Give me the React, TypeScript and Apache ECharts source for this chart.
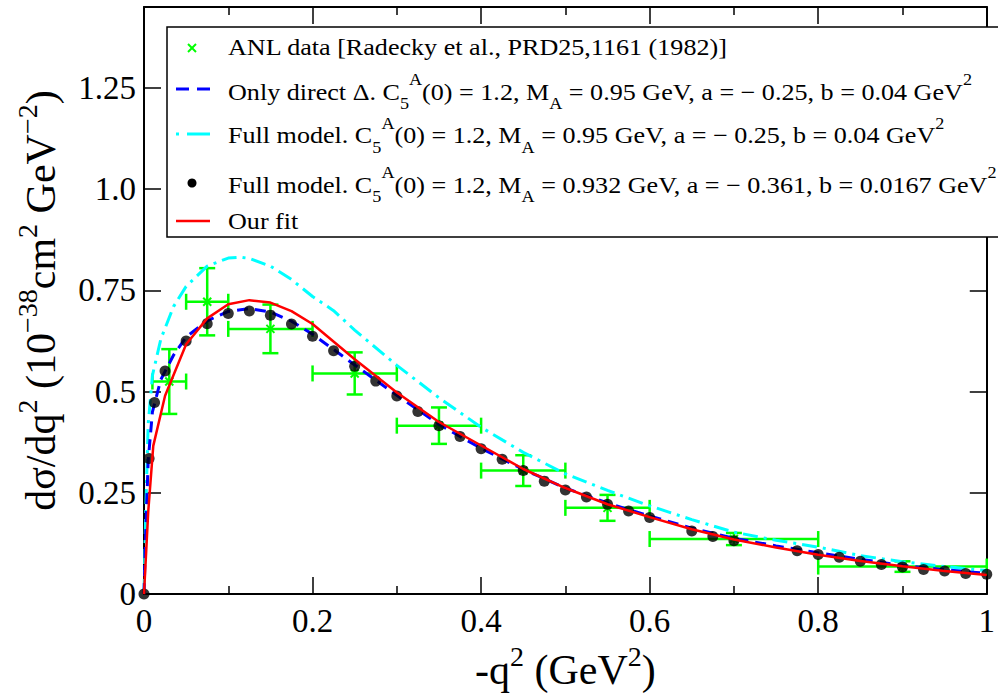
import React, { useEffect, useRef } from 'react';
import * as echarts from 'echarts';

const F = '"Liberation Serif", "Times New Roman", Times, serif';

// Full model, C5A(0)=1.2, MA=0.932 GeV, a=-0.361, b=0.0167 GeV^2 (black dots)
const dotsQ2 = [0, 0.006, 0.0125, 0.025, 0.05, 0.075, 0.1, 0.125, 0.15, 0.175, 0.2, 0.225, 0.25, 0.275, 0.3, 0.325, 0.35, 0.375, 0.4, 0.425, 0.45, 0.475, 0.5, 0.525, 0.55, 0.575, 0.6, 0.65, 0.675, 0.7, 0.775, 0.8, 0.825, 0.85, 0.875, 0.9, 0.925, 0.95, 0.975, 1.0];
const dotsVal = [0, 0.335, 0.473, 0.551, 0.625, 0.668, 0.693, 0.699, 0.689, 0.667, 0.637, 0.601, 0.563, 0.526, 0.489, 0.451, 0.416, 0.389, 0.359, 0.333, 0.305, 0.279, 0.257, 0.24, 0.222, 0.205, 0.189, 0.156, 0.142, 0.132, 0.107, 0.098, 0.091, 0.081, 0.073, 0.067, 0.061, 0.057, 0.051, 0.049];

// Only direct Delta (blue dashed)
const deltaQ2 = [0, 0.002, 0.005, 0.01, 0.02, 0.035, 0.05, 0.075, 0.1, 0.125, 0.15, 0.175, 0.2, 0.25, 0.3, 0.35, 0.4, 0.45, 0.5, 0.55, 0.6, 0.65, 0.7, 0.75, 0.8, 0.85, 0.9, 0.95, 1.0];
const deltaVal = [0, 0.15, 0.33, 0.45, 0.53, 0.59, 0.635, 0.675, 0.698, 0.705, 0.697, 0.674, 0.642, 0.566, 0.491, 0.419, 0.36, 0.308, 0.262, 0.225, 0.193, 0.163, 0.138, 0.119, 0.102, 0.086, 0.071, 0.06, 0.051];

// Full model, MA=0.95 GeV (cyan dash-dot)
const fullQ2 = [0, 0.002, 0.005, 0.01, 0.02, 0.035, 0.05, 0.075, 0.1, 0.115, 0.125, 0.15, 0.175, 0.2, 0.225, 0.25, 0.3, 0.35, 0.4, 0.45, 0.5, 0.55, 0.6, 0.65, 0.7, 0.75, 0.8, 0.85, 0.9, 0.95, 1.0];
const fullVal = [0, 0.2, 0.42, 0.54, 0.63, 0.71, 0.76, 0.81, 0.83, 0.832, 0.829, 0.81, 0.777, 0.735, 0.7, 0.652, 0.565, 0.485, 0.412, 0.35, 0.297, 0.256, 0.218, 0.184, 0.153, 0.133, 0.116, 0.095, 0.08, 0.068, 0.058];

// Our fit (red)
const fitQ2 = [0, 0.005, 0.011, 0.025, 0.05, 0.075, 0.1, 0.125, 0.15, 0.175, 0.2, 0.25, 0.3, 0.35, 0.4, 0.45, 0.5, 0.55, 0.6, 0.65, 0.7, 0.75, 0.8, 0.85, 0.9, 0.95, 1.0];
const fitVal = [0, 0.203, 0.366, 0.49, 0.617, 0.681, 0.716, 0.726, 0.72, 0.699, 0.667, 0.58, 0.498, 0.425, 0.367, 0.309, 0.262, 0.222, 0.19, 0.16, 0.135, 0.115, 0.097, 0.082, 0.069, 0.057, 0.047];

// ANL data [Radecky et al.]
const anlQ2 = [0.03, 0.075, 0.15, 0.25, 0.35, 0.45, 0.55, 0.7, 0.9];
const anlLo = [0.01, 0.05, 0.1, 0.2, 0.3, 0.4, 0.5, 0.6, 0.8];
const anlHi = [0.05, 0.1, 0.2, 0.3, 0.4, 0.5, 0.6, 0.8, 1.0];
const anlVal = [0.525, 0.722, 0.655, 0.545, 0.416, 0.305, 0.213, 0.136, 0.068];
const anlErr = [0.08, 0.083, 0.06, 0.052, 0.045, 0.038, 0.032, 0.015, 0.013];

const xTickLabels = ['0', '0.2', '0.4', '0.6', '0.8', '1'];
const yTickLabels = ['0', '0.25', '0.5', '0.75', '1.0', '1.25'];

const legendTexts = [
  '{b|ANL data [Radecky et al., PRD25,1161 (1982)]}',
  '{b|Only direct Δ. C}{sub|5}{sup|A}{b|(0) = 1.2, M}{sub|A}{b|\u00a0= 0.95 GeV, a = − 0.25, b = 0.04 GeV}{sup|2}',
  '{b|Full model. C}{sub|5}{sup|A}{b|(0) = 1.2, M}{sub|A}{b|\u00a0= 0.95 GeV, a = − 0.25, b = 0.04 GeV}{sup|2}',
  '{b|Full model. C}{sub|5}{sup|A}{b|(0) = 1.2, M}{sub|A}{b|\u00a0= 0.932 GeV, a = − 0.361, b = 0.0167 GeV}{sup|2}',
  '{b|Our fit}',
];

const xName = '{b|-q}{sup|2}{b|\u00a0(GeV}{sup|2}{b|)}';
const yName = '{b|dσ/dq}{sup|2}{b|\u00a0(10}{sup|−38}{b|cm}{sup|2}{b|\u00a0GeV}{sup|−2}{b|)}';

const zip = (xs: number[], ys: number[]) => xs.map((x, i) => [x, ys[i]]);

function buildOption() {
  const nameRich = (fs: number, sfs: number, lh: number) => ({
    b: { fontFamily: F, fontSize: fs, color: '#000', lineHeight: lh },
    sup: { fontFamily: F, fontSize: sfs, color: '#000', verticalAlign: 'top', lineHeight: sfs },
  });
  const tick = { show: true, inside: true, length: 17, lineStyle: { color: '#000', width: 1.5 } };
  const line = { show: true, onZero: false, lineStyle: { color: '#000', width: 2 } };
  const xCommon = {
    type: 'value', min: 0, max: 1, interval: 0.2,
    axisLine: line, axisTick: tick,
    minorTick: { show: true, splitNumber: 2, length: 8, lineStyle: { color: '#000', width: 1.5 } },
    splitLine: { show: false }, minorSplitLine: { show: false },
  };
  const yCommon = {
    type: 'value', min: 0, max: 1.45, interval: 0.25,
    axisLine: line, axisTick: tick,
    splitLine: { show: false },
  };

  const legendRich = {
    b: { fontFamily: F, fontSize: 23, fill: '#000', lineHeight: 40 },
    sup: { fontFamily: F, fontSize: 16, fill: '#000', verticalAlign: 'top', lineHeight: 14 },
    sub: { fontFamily: F, fontSize: 16, fill: '#000', verticalAlign: 'bottom', lineHeight: 11 },
  };
  const textRows = [47, 92, 135.5, 185, 221.5];
  const symRows = [48, 89, 134, 183, 221];
  const Z = 100;

  const legendEls: any[] = [
    { type: 'rect', z: Z, shape: { x: 167, y: 27, width: 860, height: 210 }, style: { fill: '#fff', stroke: '#000', lineWidth: 1.5 } },
    { type: 'line', z: Z + 1, shape: { x1: 188, y1: symRows[0] - 4, x2: 196, y2: symRows[0] + 4 }, style: { stroke: '#00ff00', lineWidth: 2 } },
    { type: 'line', z: Z + 1, shape: { x1: 188, y1: symRows[0] + 4, x2: 196, y2: symRows[0] - 4 }, style: { stroke: '#00ff00', lineWidth: 2 } },
    { type: 'line', z: Z + 1, shape: { x1: 176, y1: symRows[1], x2: 189, y2: symRows[1] }, style: { stroke: '#0000ff', lineWidth: 3 } },
    { type: 'line', z: Z + 1, shape: { x1: 197, y1: symRows[1], x2: 210, y2: symRows[1] }, style: { stroke: '#0000ff', lineWidth: 3 } },
    { type: 'line', z: Z + 1, shape: { x1: 176, y1: symRows[2], x2: 179, y2: symRows[2] }, style: { stroke: '#00ffff', lineWidth: 3 } },
    { type: 'line', z: Z + 1, shape: { x1: 187, y1: symRows[2], x2: 210, y2: symRows[2] }, style: { stroke: '#00ffff', lineWidth: 3 } },
    { type: 'circle', z: Z + 1, shape: { cx: 192, cy: symRows[3], r: 4.5 }, style: { fill: '#000' } },
    { type: 'line', z: Z + 1, shape: { x1: 176, y1: symRows[4], x2: 210, y2: symRows[4] }, style: { stroke: '#ff0000', lineWidth: 2.5 } },
  ];
  legendTexts.forEach((t, i) => {
    legendEls.push({
      type: 'text', z: Z + 1, x: 228, y: textRows[i], scaleX: 1.135, scaleY: 1,
      style: { text: t, rich: legendRich, align: 'left', verticalAlign: 'middle', fontFamily: F, fontSize: 23, fill: '#000' },
    });
  });

  return {
    animation: false,
    backgroundColor: '#fff',
    grid: { left: 144, right: 5, top: 7, bottom: 96, containLabel: false },
    xAxis: [
      {
        ...xCommon, position: 'bottom',
        axisLabel: {
          fontFamily: F, fontSize: 33, color: '#000', margin: 10,
          formatter: (v: number) => xTickLabels[Math.round(v / 0.2)] ?? '',
        },
        name: xName, nameLocation: 'middle', nameGap: 42,
        nameTextStyle: { fontFamily: F, fontSize: 42, color: '#000', rich: nameRich(42, 28, 56) },
      },
      { ...xCommon, position: 'top', axisLabel: { show: false } },
    ],
    yAxis: [
      {
        ...yCommon, position: 'left',
        axisLabel: {
          fontFamily: F, fontSize: 33, color: '#000', margin: 8, showMaxLabel: false,
          formatter: (v: number) => {
            const i = Math.round(v / 0.25);
            return Math.abs(v - i * 0.25) < 1e-6 ? (yTickLabels[i] ?? '') : '';
          },
        },
        name: yName, nameLocation: 'middle', nameGap: 75, nameRotate: 90,
        nameTextStyle: { fontFamily: F, fontSize: 42, color: '#000', rich: nameRich(42, 28, 56) },
      },
      { ...yCommon, position: 'right', axisLabel: { show: false } },
    ],
    series: [
      {
        type: 'custom', name: 'ANL', xAxisIndex: 0, yAxisIndex: 0,
        data: anlQ2.map((x, i) => [x, anlVal[i], anlLo[i], anlHi[i], anlErr[i]]),
        encode: { x: 0, y: 1 },
        renderItem: (_p: any, api: any) => {
          const x = api.value(0), y = api.value(1), lo = api.value(2), hi = api.value(3), e = api.value(4);
          const c = api.coord([x, y]);
          const l = api.coord([lo, y]);
          const r = api.coord([hi, y]);
          const t = api.coord([x, y + e]);
          const b = api.coord([x, y - e]);
          const cap = 8, m = 4;
          const ln = (x1: number, y1: number, x2: number, y2: number, w = 2.5) => ({ type: 'line', shape: { x1, y1, x2, y2 }, style: { stroke: '#00ff00', lineWidth: w } });
          return {
            type: 'group',
            children: [
              ln(l[0], l[1], r[0], r[1]),
              ln(l[0], l[1] - cap, l[0], l[1] + cap),
              ln(r[0], r[1] - cap, r[0], r[1] + cap),
              ln(t[0], t[1], b[0], b[1]),
              ln(t[0] - cap, t[1], t[0] + cap, t[1]),
              ln(b[0] - cap, b[1], b[0] + cap, b[1]),
              ln(c[0] - m, c[1] - m, c[0] + m, c[1] + m, 2),
              ln(c[0] - m, c[1] + m, c[0] + m, c[1] - m, 2),
            ],
          };
        },
        z: 2,
      },
      {
        type: 'line', name: 'Full model 0.95', data: zip(fullQ2, fullVal), showSymbol: false, smooth: false,
        lineStyle: { color: '#00ffff', width: 3, type: [15, 6, 3, 6] }, z: 3,
      },
      {
        type: 'line', name: 'Only direct', data: zip(deltaQ2, deltaVal), showSymbol: false, smooth: false,
        lineStyle: { color: '#0000ff', width: 3, type: [11, 7] }, z: 3,
      },
      {
        type: 'scatter', name: 'Full model 0.932', data: zip(dotsQ2, dotsVal), symbol: 'circle', symbolSize: 11,
        itemStyle: { color: '#000' }, clip: false, z: 4,
      },
      {
        type: 'line', name: 'Our fit', data: zip(fitQ2, fitVal), showSymbol: false, smooth: false,
        lineStyle: { color: '#ff0000', width: 2.5 }, z: 5,
      },
    ],
    graphic: { elements: legendEls },
  };
}

export default function App() {
  const ref = useRef<HTMLDivElement>(null);
  useEffect(() => {
    document.body.style.margin = '0';
    const chart = echarts.init(ref.current!, null, { renderer: 'svg' });
    chart.setOption(buildOption() as any);
    return () => chart.dispose();
  }, []);
  return <div ref={ref} style={{ position: 'absolute', left: 0, top: 0, width: 998, height: 696, background: '#fff' }} />;
}
